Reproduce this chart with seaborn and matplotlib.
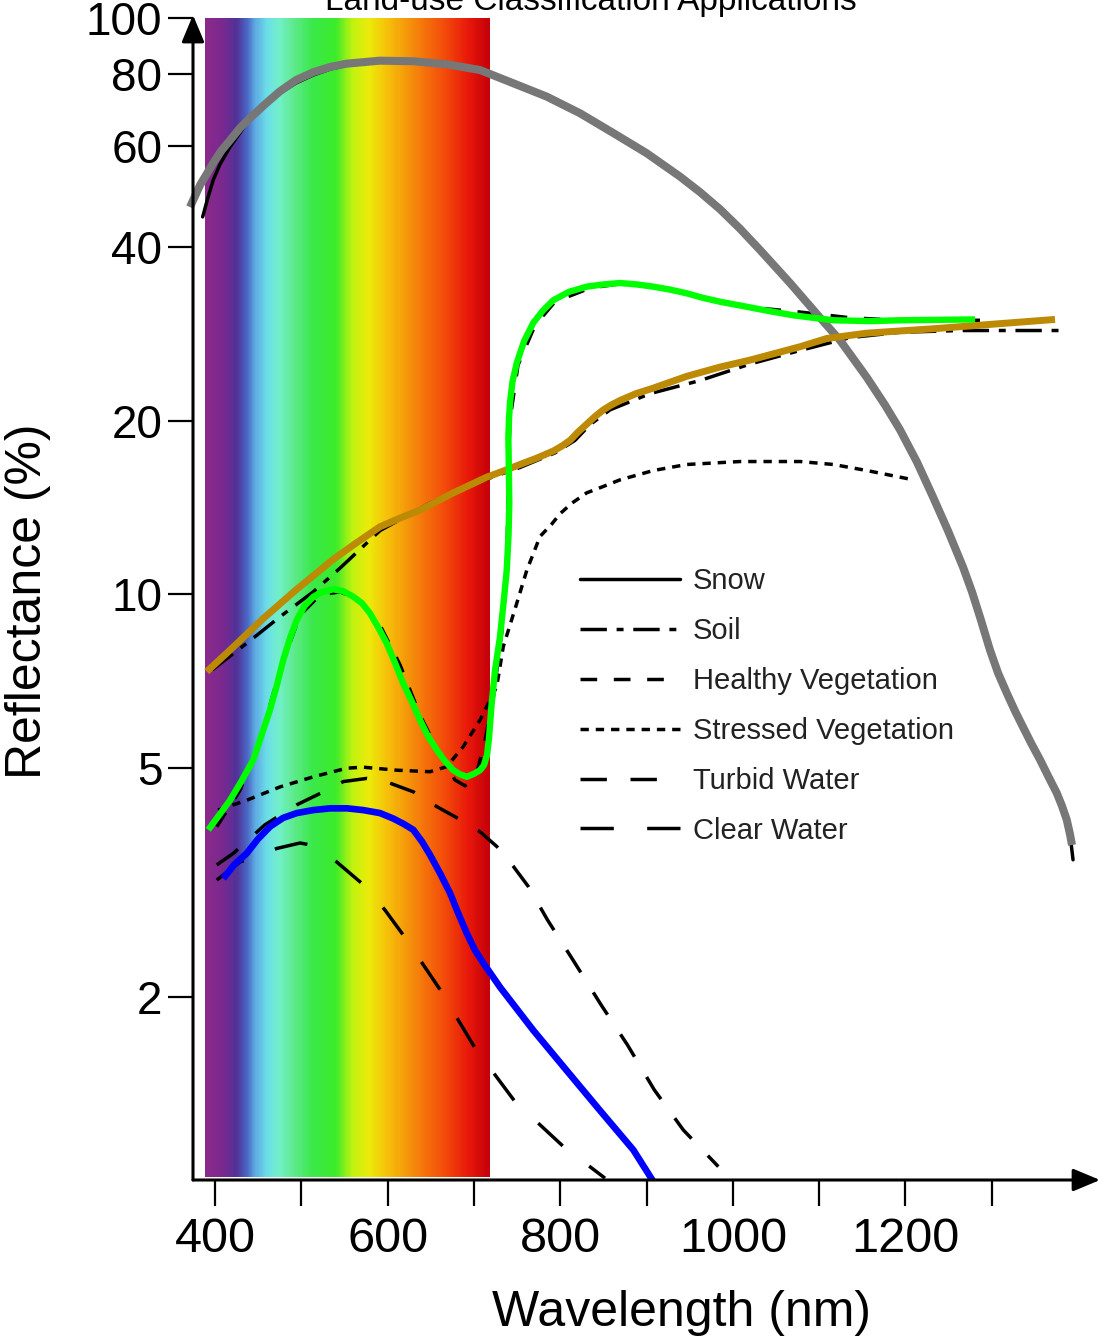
import numpy as np
import matplotlib
matplotlib.use("Agg")
import matplotlib.pyplot as plt
from matplotlib.colors import LinearSegmentedColormap
from matplotlib.lines import Line2D
from matplotlib.ticker import NullLocator
import seaborn as sns

# DATA (wavelength in nm, reflectance in %)

snow_wl = [385.7, 391.9, 398.0, 405.8, 417.4, 436.7, 454.5, 475.3, 493.9, 513.9, 533.3, 552.6,
           591.2, 629.8, 668.5, 707.1, 745.7, 784.4, 822.9, 861.5, 900.2, 938.8, 962.0, 985.2,
           1008.4, 1031.5, 1066.3, 1101.1, 1124.2, 1155.2, 1176.4, 1193.7, 1213.4, 1232.0,
           1249.4, 1266.7, 1277.2, 1286.4, 1298.0, 1307.3, 1317.4, 1327.0, 1336.3, 1345.5,
           1356.0, 1365.2, 1375.3, 1381.4, 1386.9, 1390.7, 1394.2]
snow_r = [45.2, 48.9, 52.4, 55.8, 59.8, 65.7, 70.1, 74.1, 77.2, 79.7, 81.6, 82.9,
          84.2, 84.2, 83.2, 81.3, 77.1, 73.1, 68.4, 63.2, 58.3, 53.1, 49.9, 46.6,
          43.1, 39.6, 34.7, 30.2, 27.6, 23.8, 21.3, 19.3, 16.96, 14.75,
          12.88, 11.15, 10.09, 9.13, 8.0, 7.30, 6.74, 6.27, 5.88, 5.52,
          5.16, 4.84, 4.52, 4.29, 4.06, 3.83, 3.46]

snow_hl_wl = [371.0, 376.8, 382.6, 390.2, 397.7, 407.0, 417.4, 429.0, 440.6, 457.9, 475.3,
              493.9, 513.9, 533.3, 552.6, 591.2, 629.8, 668.5, 707.1, 745.7, 784.4, 822.9,
              861.5, 900.2, 938.8, 962.0, 985.2, 1008.4, 1031.5, 1066.3, 1101.1, 1124.2,
              1155.2, 1176.4, 1193.7, 1213.4, 1232.0, 1249.4, 1266.7, 1277.2, 1286.4, 1298.0,
              1307.3, 1317.4, 1327.0, 1336.3, 1345.5, 1356.0, 1365.2, 1375.3, 1381.4, 1386.9,
              1390.7, 1393.0]
snow_hl_r = [47.0, 49.1, 51.3, 53.6, 56.0, 58.8, 61.4, 64.5, 67.1, 70.9, 74.7,
             78.1, 80.6, 82.3, 83.4, 84.4, 84.2, 83.2, 81.3, 77.1, 73.1, 68.4,
             63.2, 58.3, 53.1, 49.9, 46.6, 43.1, 39.6, 34.7, 30.2, 27.6,
             23.8, 21.3, 19.3, 16.96, 14.75, 12.88, 11.15, 10.09, 9.13, 8.0,
             7.30, 6.74, 6.27, 5.88, 5.52, 5.16, 4.84, 4.52, 4.29, 4.06,
             3.83, 3.67]

soil_wl = [396.5, 436.7, 475.3, 513.9, 544.8, 591.2, 649.1, 707.1, 753.4, 794, 817.1, 834.5,
           857.7, 904, 962, 1019.9, 1077.9, 1135.8, 1193.7, 1263.3, 1386.1]
soil_r = [7.39, 8.22, 9.14, 10.1, 11.1, 12.9, 14.4, 15.7, 16.6, 17.6, 18.5, 19.7,
          20.9, 22.3, 23.5, 25.1, 26.5, 27.9, 28.5, 28.7, 28.7]

soil_hl_wl = [390.4, 417.4, 456.0, 494.7, 537.1, 563.4, 591.2, 614.4, 637.5, 676.1, 714.8,
              733.7, 753.4, 773.1, 792.0, 802.1, 811.4, 820.6, 830.7, 840.3, 850.0, 858.9,
              869.3, 887.8, 907.9, 946.6, 985.2, 1019.9, 1077.9, 1108.8, 1155.2, 1232.0,
              1309.6, 1373.3]
soil_hl_r = [7.34, 8.0, 9.08, 10.2, 11.5, 12.27, 13.1, 13.56, 14.0, 15.0, 15.97,
             16.36, 16.80, 17.24, 17.73, 18.09, 18.5, 19.12, 19.74, 20.35, 20.9, 21.3,
             21.7, 22.3, 22.8, 23.9, 24.8, 25.5, 26.9, 27.8, 28.4, 28.9,
             29.5, 30.0]

veg_wl = [402, 429, 452.1, 475.3, 498.5, 521.7, 544.8, 568, 591.2, 614.4, 637.5, 660.7, 678.1,
          689.7, 701.3, 712.9, 722.1, 732.6, 738.4, 739.5, 741.8, 751.1, 770.8, 794, 834.5,
          869.3, 909.8, 950.4, 985.2, 1019.9, 1077.9, 1135.8, 1193.7, 1286.4]
veg_r = [3.95, 4.57, 5.58, 7.39, 9.20, 9.97, 10.1, 9.77, 8.84, 7.54, 6.17, 5.26, 4.76,
         4.65, 4.76, 5.58, 6.55, 8.67, 11.5, 15.8, 20.1, 25.0, 29.3, 32.2, 34.0,
         34.6, 34.2, 33.2, 32.3, 31.5, 30.9, 30.2, 29.9, 29.9]

veg_hl_wl = [392.2, 417.4, 430.7, 444.4, 454.0, 463.7, 471.8, 479.1, 486.9, 494.7, 503.7,
             513.9, 524.0, 537.1, 548.3, 560.3, 570.3, 579.6, 588.9, 599.0, 608.6, 618.2,
             628.3, 637.5, 646.8, 656.9, 666.5, 676.1, 683.9, 691.7, 700.1, 707.1, 711.7,
             715.2, 717.5, 720.4, 724.5, 730.2, 734.3, 738.0, 740.1, 741.0, 740.5, 739.9,
             740.7, 741.8, 744.7, 749.6, 758.1, 768.8, 780.1, 792.0, 810.2, 830.7, 849.6,
             869.3, 889.0, 907.9, 927.2, 946.6, 965.5, 985.2, 1014.1, 1043.1, 1070.1,
             1093.0, 1116.5, 1159.0, 1193.7, 1280.6]
veg_hl_r = [3.90, 4.39, 4.74, 5.16, 5.70, 6.30, 6.96, 7.69, 8.39, 9.02, 9.54,
            9.90, 10.09, 10.2, 10.13, 9.90, 9.65, 9.27, 8.77, 8.22, 7.60, 7.0,
            6.50, 6.05, 5.67, 5.37, 5.13, 4.95, 4.87, 4.82, 4.88, 4.95, 5.05,
            5.26, 5.63, 6.42, 7.39, 8.43, 9.65, 11.0, 12.67, 14.4, 16.43, 18.75,
            20.2, 21.5, 23.4, 25.2, 27.5, 29.6, 31.1, 32.4, 33.5, 34.2, 34.5,
            34.7, 34.5, 34.2, 33.8, 33.3, 32.7, 32.2, 31.6, 31.0, 30.5,
            30.2, 29.9, 29.8, 29.9, 30.0]

stressed_wl = [403.5, 436.7, 475.3, 513.9, 552.6, 571.8, 610.5, 649.1, 668.5, 687.7, 707.1,
               726.4, 734, 749.6, 761.2, 776.6, 790.2, 799.8, 813.7, 830.7, 849.6, 869.3,
               907.9, 946.6, 1008.3, 1077.9, 1116.5, 1155.2, 1209.2]
stressed_r = [4.22, 4.39, 4.63, 4.82, 4.99, 5.01, 4.95, 4.92, 5.02, 5.44, 6.05,
              6.91, 8.11, 9.64, 11.0, 12.6, 13.24, 13.8, 14.4, 15.0, 15.38, 15.8,
              16.4, 16.8, 17.0, 17.0, 16.8, 16.4, 15.8]

turbid_wl = [402, 421.2, 457.9, 494.7, 521.7, 548.7, 575.8, 602.8, 629.8, 656.9, 681.9, 707.1,
             726.4, 745.7, 763, 785.3, 816.2, 847.1, 878, 908.9, 942.6, 983.2]
turbid_r = [3.39, 3.55, 3.98, 4.31, 4.51, 4.73, 4.79, 4.70, 4.54, 4.28, 4.08, 3.87,
            3.65, 3.37, 3.11, 2.72, 2.30, 1.94, 1.65, 1.38, 1.175, 1.015]

clear_wl = [402, 429, 471.5, 498.5, 515.9, 541, 570, 597, 618.2, 660.7, 701.3, 747.6,
            803.6, 851.9]
clear_r = [3.19, 3.43, 3.62, 3.70, 3.66, 3.43, 3.15, 2.83, 2.56, 2.06, 1.63, 1.316,
           1.10, 0.969]

water_hl_wl = [409.6, 422.0, 436.7, 449.8, 463.7, 478.8, 494.7, 513.6, 533.3, 553.0, 571.8,
               591.2, 606.6, 619.0, 629.8, 639.9, 649.1, 660.7, 672.3, 681.6, 691.7, 701.3,
               710.9, 730.2, 768.8, 807.5, 846.1, 884.7, 907.9]
water_hl_r = [3.21, 3.39, 3.55, 3.76, 3.95, 4.09, 4.17, 4.22, 4.25, 4.25, 4.22,
              4.17, 4.08, 3.99, 3.90, 3.72, 3.53, 3.28, 3.03, 2.80, 2.58, 2.41,
              2.29, 2.08, 1.75, 1.49, 1.27, 1.085, 0.956]

legend_labels = ["Snow", "Soil", "Healthy Vegetation", "Stressed Vegetation",
                 "Turbid Water", "Clear Water"]

y_ticks = [2, 5, 10, 20, 40, 60, 80, 100]
x_ticks = list(range(400, 1301, 100))
x_tick_labels = ["400", "", "600", "", "800", "", "1000", "", "1200", ""]

# STYLE

sns.set_style("white")
plt.rcParams["font.family"] = ["Liberation Sans", "DejaVu Sans"]
plt.rcParams["lines.scale_dashes"] = False

ls_soil = (0, (19, 7, 5, 7))
ls_healthy = (0, (12, 12))
ls_stressed = (0, (6, 5))
ls_turbid = (0, (19, 17))
ls_clear = (0, (24, 24))

fig = plt.figure(figsize=(11.04, 13.4), dpi=100)
ax = fig.add_axes([0.17482, 0.1194, 0.8216, 0.8694])
ax.set_yscale("log")
ax.set_xlim(374.5, 1425.5)
ax.set_ylim(0.962, 101.3)

# visible spectrum band
spec_stops = [0.0, 0.06, 0.107, 0.142, 0.177, 0.218, 0.26, 0.307, 0.377, 0.459,
              0.517, 0.576, 0.635, 0.705, 0.775, 0.845, 0.926, 1.0]
spec_cols = ["#8a2a8a", "#7a2890", "#533196", "#4a60c0", "#5eaee3", "#6ce0e6", "#72efc8",
             "#60ea90", "#3ae84a", "#3ceb2a", "#c0f20f", "#ecea0a", "#f5c40a", "#f59a0a",
             "#f5700a", "#f24a0a", "#e8180a", "#c4000a"]
cmap = LinearSegmentedColormap.from_list("spec", list(zip(spec_stops, spec_cols)))
bx = np.linspace(388.4, 718.7, 400)
ax.pcolormesh(bx, [0.974, 100], np.linspace(0, 1, 399)[None, :], cmap=cmap,
              shading="flat", edgecolor="none", linewidth=0, antialiased=False, zorder=0.5)

# black reference curves
lw_k = 2.5
sns.lineplot(x=snow_wl, y=snow_r, ax=ax, color="black", linewidth=lw_k, sort=False,
             estimator=None, zorder=2)
sns.lineplot(x=soil_wl, y=soil_r, ax=ax, color="black", linewidth=lw_k, sort=False,
             estimator=None, linestyle=ls_soil, zorder=2)
sns.lineplot(x=veg_wl, y=veg_r, ax=ax, color="black", linewidth=lw_k, sort=False,
             estimator=None, linestyle=ls_healthy, zorder=2)
sns.lineplot(x=stressed_wl, y=stressed_r, ax=ax, color="black", linewidth=lw_k, sort=False,
             estimator=None, linestyle=ls_stressed, zorder=2)
sns.lineplot(x=turbid_wl, y=turbid_r, ax=ax, color="black", linewidth=lw_k, sort=False,
             estimator=None, linestyle=ls_turbid, zorder=2)
sns.lineplot(x=clear_wl, y=clear_r, ax=ax, color="black", linewidth=lw_k, sort=False,
             estimator=None, linestyle=ls_clear, zorder=2)

# coloured highlight curves
sns.lineplot(x=snow_hl_wl, y=snow_hl_r, ax=ax, color="#777777", linewidth=5.8, sort=False,
             estimator=None, zorder=3, clip_on=False, solid_capstyle="butt",
             solid_joinstyle="round")
sns.lineplot(x=soil_hl_wl, y=soil_hl_r, ax=ax, color="#bc8a04", linewidth=5.0, sort=False,
             estimator=None, zorder=3, solid_capstyle="butt", solid_joinstyle="round")
sns.lineplot(x=veg_hl_wl, y=veg_hl_r, ax=ax, color="#00ff00", linewidth=4.6, sort=False,
             estimator=None, zorder=3, solid_capstyle="butt", solid_joinstyle="round")
sns.lineplot(x=water_hl_wl, y=water_hl_r, ax=ax, color="#0000ff", linewidth=4.8, sort=False,
             estimator=None, zorder=3, solid_capstyle="butt", solid_joinstyle="round")

# axes with arrows
for s in ax.spines.values():
    s.set_visible(False)
arrow = dict(arrowstyle="-|>,head_length=0.55,head_width=0.23", color="black", lw=2.2,
             mutation_scale=30, shrinkA=0, shrinkB=0)
ax.annotate("", xy=(0, 1), xytext=(0, 0), xycoords="axes fraction", arrowprops=arrow,
            annotation_clip=False)
ax.annotate("", xy=(1, 0), xytext=(0, 0), xycoords="axes fraction", arrowprops=arrow,
            annotation_clip=False)

ax.set_yticks(y_ticks)
ax.set_yticklabels([str(v) for v in y_ticks])
ax.yaxis.set_minor_locator(NullLocator())
ax.yaxis.get_major_ticks()[-1].tick1line.set_visible(False)
ax.set_xticks(x_ticks)
ax.set_xticklabels(x_tick_labels)
ax.tick_params(axis="y", which="major", left=True, direction="out", length=18, width=1.6,
               labelsize=33, pad=4, colors="black")
ax.tick_params(axis="x", which="major", bottom=True, direction="out", length=19, width=1.6,
               labelsize=35, pad=7.5, colors="black")
ax.set_xlabel("")
ax.set_ylabel("")

fig.text(28 / 1104, 1 - 601 / 1340, "Reflectance (%)", rotation=90, ha="center",
         va="center", fontsize=36, color="black")
fig.text(682 / 1104, 1 - 1313 / 1340, "Wavelength (nm)", ha="center", va="center",
         fontsize=36, color="black")
fig.text(0.535, 0.9925, "Land-use Classification Applications", ha="center",
         va="baseline", fontsize=24, color="black")

# legend
handles = [Line2D([], [], color="black", lw=lw_k, linestyle=ls)
           for ls in ["-", ls_soil, ls_healthy, ls_stressed, ls_turbid, ls_clear]]
leg = fig.legend(handles, legend_labels, loc="center left",
                 bbox_to_anchor=(580 / 1104, 1 - 706 / 1340), bbox_transform=fig.transFigure,
                 frameon=False, fontsize=21, handlelength=3.43, handletextpad=0.45,
                 labelspacing=0.75, borderpad=0, borderaxespad=0)
for t in leg.get_texts():
    t.set_color("#222222")

fig.savefig("out.png", dpi=100)
plt.close(fig)
